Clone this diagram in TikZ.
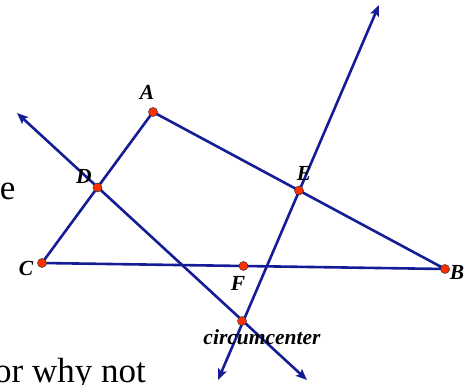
\documentclass[tikz,border=0pt]{standalone}
\usepackage{fontspec}
\setmainfont{Liberation Serif}
\usetikzlibrary{arrows.meta}
\definecolor{ln}{RGB}{20,28,150}
\definecolor{pt}{RGB}{255,48,0}
\tikzset{
  seg/.style={draw=ln,line width=2.6pt},
  bis/.style={seg,{Stealth[length=11pt,width=9pt,inset=2pt]}-{Stealth[length=11pt,width=9pt,inset=2pt]}},
  dot/.style={circle,fill=pt,draw=black!80,line width=0.5pt,inner sep=0pt,minimum size=9pt},
  lab/.style={font=\fontsize{21.5}{21.5}\selectfont\bfseries\itshape,inner sep=0pt},
  bg/.style={font=\fontsize{35}{35}\selectfont,inner sep=0pt}
}
\begin{document}
\begin{tikzpicture}[x=1pt,y=-1pt]
\useasboundingbox (0,0) rectangle (475,385);
% background text fragments
\node[bg,anchor=base east] (te) at (15.5,199.5) {e};
\node[bg,anchor=base east] (tw) at (146,383) {or why not};
% bisector end points
\coordinate (d1) at (17,113);
\coordinate (d2) at (307,380);
\coordinate (e1) at (379,5);
\coordinate (e2) at (218,380);
% points
\coordinate (A) at (153,112);
\coordinate (B) at (445,269);
\coordinate (C) at (42,263);
\coordinate (D) at (97.5,187.5);
\coordinate (E) at (299,190.5);
\coordinate (F) at (243.5,266);
\coordinate (O) at (242,321);
% triangle
\draw[seg] (A) -- (B) -- (C) -- cycle;
% perpendicular bisectors
\draw[bis] (d1) -- (d2);
\draw[bis] (e1) -- (e2);
% dots
\foreach \p in {A,B,C,D,E,F,O} \node[dot] at (\p) {};
% labels
\node[lab] (lA) at (147,92) {A};
\node[lab] (lB) at (457,272) {B};
\node[lab] (lC) at (26,268) {C};
\node[lab] (lD) at (84,176) {D};
\node[lab] (lE) at (304,173) {E};
\node[lab] (lF) at (238,283) {F};
\node[lab] (lO) at (262,337) {circumcenter};
\end{tikzpicture}
\end{document}
